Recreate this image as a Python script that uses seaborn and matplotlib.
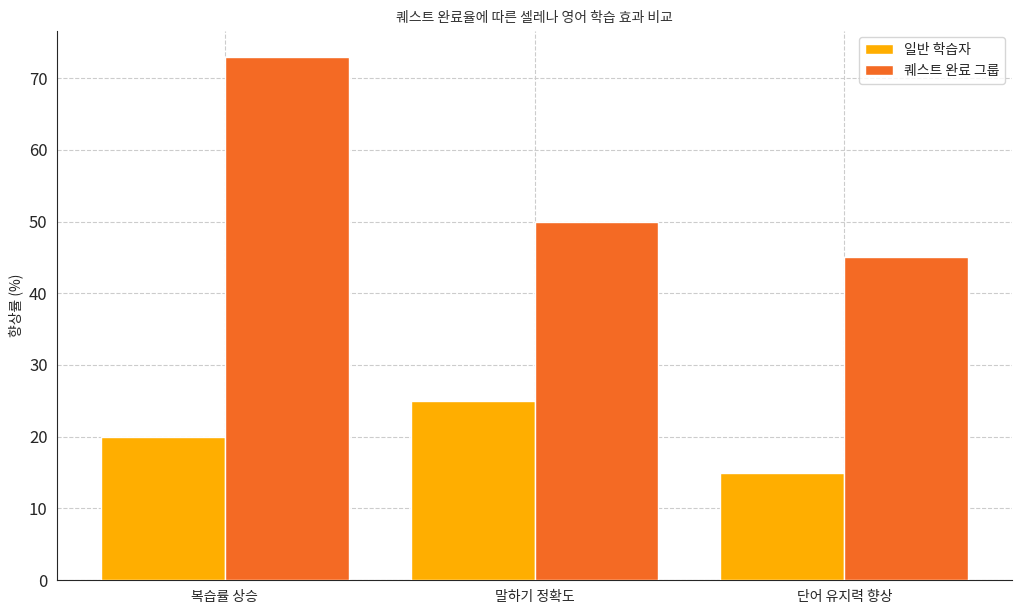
import matplotlib
matplotlib.use("Agg")
import matplotlib.pyplot as plt
import seaborn as sns
import pandas as pd

categories = ["복습률 상승", "말하기 정확도", "단어 유지력 향상"]
general = [20, 25, 15]
quest = [73, 50, 45]
series_names = ["일반 학습자", "퀘스트 완료 그룹"]

df = pd.DataFrame({
    "항목": categories * 2,
    "값": general + quest,
    "그룹": [series_names[0]] * 3 + [series_names[1]] * 3,
})

sns.set_style("white")
plt.rcParams['font.family'] = ['Noto Sans CJK KR', 'DejaVu Sans']

fig, ax = plt.subplots(figsize=(10.24, 6.1), dpi=100)
sns.barplot(data=df, x="항목", y="값", hue="그룹", palette=["#FFAE00", "#F46A24"],
            width=0.8, saturation=1, ax=ax, zorder=3)
ax.set_xlim(-0.54, 2.54)
ax.grid(True, linestyle="--", color="#cccccc", linewidth=0.8, zorder=0)
ax.set_axisbelow(True)
sns.despine(ax=ax)
ax.set_title("퀘스트 완료율에 따른 셀레나 영어 학습 효과 비교", fontsize=10, color="#333333")
ax.set_xlabel("")
ax.set_ylabel("향상률 (%)", fontsize=10)
ax.tick_params(axis="x", labelsize=10)
ax.tick_params(axis="y", labelsize=12)
ax.legend(title=None, loc="upper right", fontsize=10)
fig.subplots_adjust(left=0.056, right=0.988, top=0.95, bottom=0.049)
fig.savefig("out.png", dpi=100)
